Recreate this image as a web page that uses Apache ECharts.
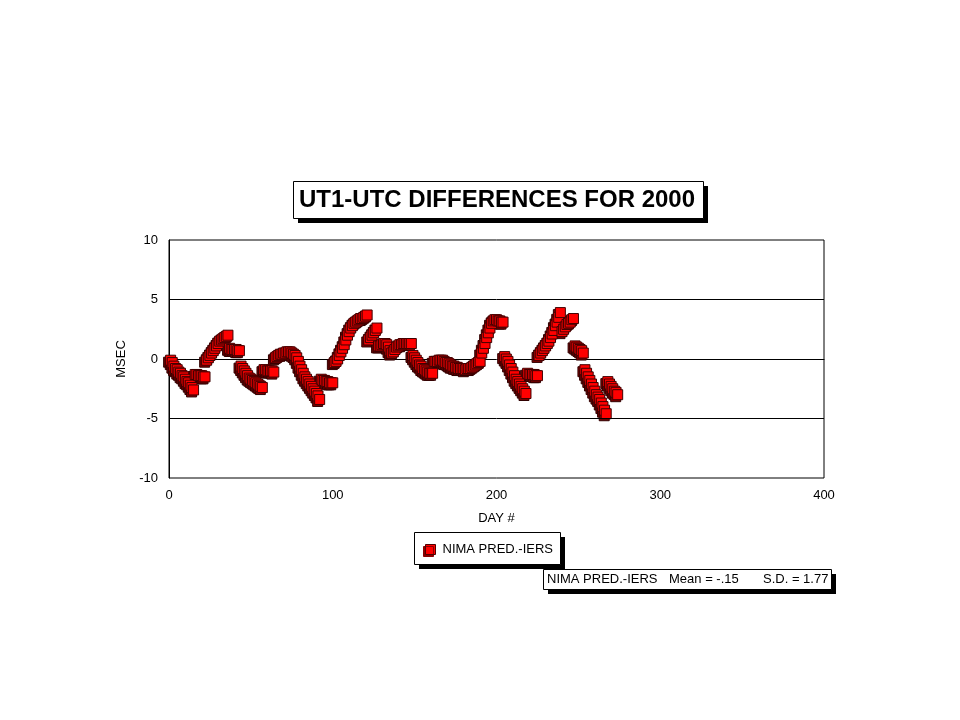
<!DOCTYPE html>
<html>
<head>
<meta charset="utf-8">
<script src="https://cdn.jsdelivr.net/npm/echarts@6/dist/echarts.min.js"></script>
<style>html,body{margin:0;padding:0;background:#fff;}#chart{width:960px;height:720px;}</style>
</head>
<body>
<div id="chart"></div>
<script>
const chartTitle = 'UT1-UTC DIFFERENCES FOR 2000';
const seriesName = 'NIMA PRED.-IERS';
const statsLabel = 'NIMA PRED.-IERS';
const statsMean = 'Mean = -.15';
const statsSD = 'S.D. = 1.77';
const xTicks = [0, 100, 200, 300, 400];
const yTicks = [-10, -5, 0, 5, 10];
const refLines = [5, -5];

const days = [
  1,2,3,4,5,6,7,8,9,10,11,12,13,14,15,
  16,17,18,19,20,21,22,
  23,24,25,26,27,28,29,30,31,32,33,34,35,36,
  37,38,39,40,41,42,43,
  44,45,46,47,48,49,50,51,52,53,54,55,56,57,
  58,59,60,61,62,63,64,
  65,66,67,68,69,70,71,72,73,74,75,76,77,78,79,80,81,82,83,84,85,86,87,88,89,90,91,92,
  93,94,95,96,97,98,99,100,
  101,102,103,104,105,106,107,108,109,110,111,112,113,114,115,116,117,118,119,120,121,
  122,123,124,125,126,127,
  128,129,130,131,132,133,134,135,136,137,138,139,140,141,142,143,144,145,146,147,148,
  149,150,151,152,153,154,155,156,157,158,159,160,161,
  162,163,164,165,166,167,168,169,170,171,172,173,174,175,176,177,178,179,180,181,182,183,184,185,186,187,188,189,190,
  191,192,193,194,195,196,197,198,
  199,200,201,202,203,204,
  205,206,207,208,209,210,211,212,213,214,215,216,217,218,
  219,220,221,222,223,224,225,
  226,227,228,229,230,231,232,233,234,235,236,237,238,239,
  240,241,242,243,244,245,246,247,
  248,249,250,251,252,253,
  254,255,256,257,258,259,260,261,262,263,264,265,266,267,
  268,269,270,271,272,273,274
];

const msec = [
  -0.1,-0.3,-0.6,-0.8,-0.9,-1.1,-1.2,-1.4,-1.5,-1.7,-1.9,-2.0,-2.2,-2.4,-2.6,
  -1.3,-1.3,-1.4,-1.4,-1.4,-1.5,-1.5,
  -0.1,0.1,0.3,0.5,0.7,0.9,1.1,1.3,1.5,1.6,1.7,1.8,1.9,2.0,
  0.9,0.8,0.8,0.8,0.8,0.7,0.7,
  -0.6,-0.8,-1.0,-1.2,-1.4,-1.6,-1.7,-1.8,-1.9,-2.0,-2.1,-2.2,-2.3,-2.4,
  -0.9,-0.9,-1.0,-1.0,-1.0,-1.0,-1.1,
  0.1,0.2,0.3,0.4,0.4,0.5,0.5,0.6,0.6,0.6,0.5,0.4,0.3,0.1,-0.2,-0.6,-0.9,-1.2,-1.5,-1.7,-1.9,-2.1,-2.3,-2.5,-2.7,-2.9,-3.1,-3.4,
  -1.7,-1.8,-1.8,-1.9,-1.9,-2.0,-2.0,-2.0,
  -0.3,-0.2,0.0,0.3,0.6,0.9,1.2,1.6,2.0,2.3,2.6,2.8,3.0,3.1,3.2,3.3,3.4,3.4,3.5,3.6,3.7,
  1.6,1.8,2.0,2.2,2.4,2.6,
  1.1,1.1,1.2,1.3,1.3,1.2,1.0,0.7,0.5,0.6,0.8,1.0,1.1,1.2,1.2,1.3,1.3,1.3,1.3,1.3,1.3,
  0.3,0.1,-0.1,-0.3,-0.5,-0.6,-0.8,-0.9,-1.0,-1.1,-1.2,-1.2,-1.2,
  -0.2,-0.2,-0.2,-0.1,-0.1,-0.1,-0.2,-0.3,-0.3,-0.4,-0.5,-0.6,-0.6,-0.7,-0.7,-0.8,-0.8,-0.8,-0.8,-0.9,-0.8,-0.8,-0.8,-0.7,-0.6,-0.5,-0.4,-0.3,-0.2,
  0.5,0.9,1.3,1.8,2.2,2.6,3.0,3.2,
  3.3,3.3,3.2,3.2,3.1,3.1,
  0.2,0.0,-0.2,-0.5,-0.8,-1.1,-1.4,-1.7,-1.9,-2.1,-2.3,-2.5,-2.7,-2.9,
  -1.2,-1.3,-1.3,-1.3,-1.3,-1.4,-1.4,
  0.3,0.5,0.7,0.9,1.1,1.3,1.5,1.8,2.1,2.4,2.8,3.1,3.5,3.9,
  2.3,2.5,2.7,2.9,3.0,3.1,3.3,3.4,
  1.1,1.0,0.9,0.8,0.7,0.5,
  -0.9,-1.2,-1.5,-1.8,-2.1,-2.4,-2.7,-3.0,-3.2,-3.4,-3.7,-4.0,-4.3,-4.6,
  -1.9,-2.1,-2.3,-2.5,-2.7,-2.8,-3.0
];

const points = days.map((d, i) => [d, msec[i]]);
const FONT = '"Liberation Sans", Arial, sans-serif';

function boxWithShadow(x, y, w, h, off) {
  return [
    {type: 'rect', silent: true, z: 1, shape: {x: x + off, y: y + off, width: w, height: h}, style: {fill: '#000'}},
    {type: 'rect', silent: true, z: 2, shape: {x: x + 0.5, y: y + 0.5, width: w, height: h}, style: {fill: '#fff', stroke: '#000', lineWidth: 1}}
  ];
}

const chart = echarts.init(document.getElementById('chart'), null, {renderer: 'canvas'});
chart.setOption({
  animation: false,
  backgroundColor: '#ffffff',
  graphic: [].concat(
    boxWithShadow(293, 181, 410, 37, 5),
    boxWithShadow(414, 532, 146, 32, 5),
    boxWithShadow(543, 569, 288, 20, 5)
  ),
  title: [{
    text: chartTitle,
    left: 299, top: 188,
    padding: 0,
    z: 10,
    textStyle: {fontFamily: FONT, fontWeight: 'bold', fontSize: 24, color: '#000', lineHeight: 24}
  }, {
    text: '{a|' + statsLabel + '}{b|' + statsMean + '}{c|' + statsSD + '}',
    left: 547, top: 573,
    padding: 0,
    z: 10,
    textStyle: {
      fontFamily: FONT, fontSize: 13, color: '#000', fontWeight: 'normal', lineHeight: 13,
      rich: {
        a: {width: 122, fontFamily: FONT, fontSize: 13, color: '#000'},
        b: {width: 94, fontFamily: FONT, fontSize: 13, color: '#000'},
        c: {fontFamily: FONT, fontSize: 13, color: '#000'}
      }
    }
  }],
  legend: {
    left: 425, top: 543,
    padding: 0,
    z: 10,
    itemWidth: 10, itemHeight: 10, itemGap: 5,
    textStyle: {fontFamily: FONT, fontSize: 13, color: '#000', padding: [0, 0, 0, 2]},
    data: [{name: seriesName, icon: 'rect', itemStyle: {color: '#ff0000', borderColor: '#500000', borderWidth: 1, shadowColor: '#8a0000', shadowBlur: 0, shadowOffsetX: -2, shadowOffsetY: 2}}]
  },
  grid: {left: 169, right: 136, top: 240, bottom: 242, show: true, borderColor: '#000', borderWidth: 1, containLabel: false},
  xAxis: {
    type: 'value', min: xTicks[0], max: xTicks[xTicks.length - 1], interval: 100,
    name: 'DAY #', nameLocation: 'middle', nameGap: 34,
    nameTextStyle: {fontFamily: FONT, fontSize: 13, color: '#000'},
    axisLine: {show: true, lineStyle: {color: '#000'}},
    axisTick: {show: false},
    splitLine: {show: false},
    axisLabel: {fontFamily: FONT, fontSize: 13, color: '#000', margin: 11}
  },
  yAxis: {
    type: 'value', min: yTicks[0], max: yTicks[yTicks.length - 1], interval: 5,
    name: 'MSEC', nameLocation: 'middle', nameGap: 41, nameRotate: 90,
    nameTextStyle: {fontFamily: FONT, fontSize: 13, color: '#000'},
    axisLine: {show: true, lineStyle: {color: '#000'}},
    axisTick: {show: false},
    splitLine: {show: false},
    axisLabel: {fontFamily: FONT, fontSize: 13, color: '#000', margin: 11}
  },
  series: [{
    name: seriesName + ' depth',
    type: 'scatter',
    symbol: 'rect',
    symbolSize: 10,
    symbolOffset: [-2, 2],
    data: points,
    z: 2,
    itemStyle: {color: '#7a0000', borderColor: '#300000', borderWidth: 1, opacity: 1},
    emphasis: {disabled: true},
    tooltip: {show: false},
    markLine: {
      silent: true,
      symbol: 'none',
      label: {show: false},
      lineStyle: {color: '#000', width: 1, type: 'solid'},
      emphasis: {disabled: true},
      data: refLines.map(v => ({yAxis: v}))
    }
  }, {
    name: seriesName,
    type: 'scatter',
    symbol: 'rect',
    symbolSize: 10,
    data: points,
    z: 3,
    itemStyle: {color: '#ff0000', borderColor: '#400000', borderWidth: 1, opacity: 1},
    emphasis: {disabled: true}
  }]
});
</script>
</body>
</html>
